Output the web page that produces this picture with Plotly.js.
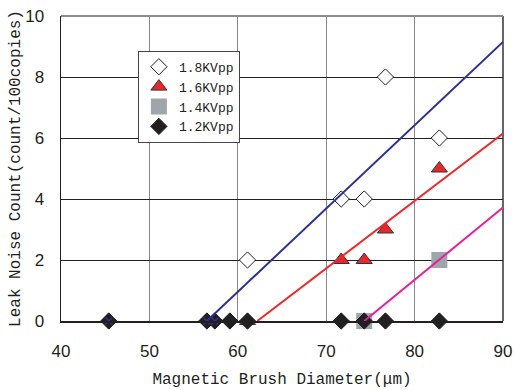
<!DOCTYPE html>
<html>
<head>
<meta charset="utf-8">
<script src="https://cdn.plot.ly/plotly-3.0.1.min.js"></script>
<style>html,body{margin:0;padding:0;background:#fff;}#chart{width:515px;height:390px;}</style>
</head>
<body>
<div id="chart"></div>
<script>
// Data
var seriesNames = ["1.8KVpp", "1.6KVpp", "1.4KVpp", "1.2KVpp"];
var x18 = [61.1, 71.7, 74.3, 76.7, 82.8];
var y18 = [2, 4, 4, 8, 6];
var x16 = [61.1, 71.7, 74.3, 76.7, 82.8];
var y16 = [0, 2, 2, 3, 5];
var x14 = [74.3, 82.8];
var y14 = [0, 2];
var x12 = [45.4, 56.5, 57.4, 59.1, 61.1, 71.7, 74.3, 76.7, 82.8];
var y12 = [0, 0, 0, 0, 0, 0, 0, 0, 0];
var xCross = [45.4, 56.5, 57.4];
var yCross = [0, 0, 0];
// Fitted lines (end points)
var fit18x = [56.5, 90], fit18y = [0, 9.15];
var fit16x = [62.2, 90], fit16y = [0, 6.15];
var fit14x = [74.3, 90], fit14y = [0, 3.72];
var xTicks = [40, 50, 60, 70, 80, 90];
var yTicks = [0, 2, 4, 6, 8, 10];

var traces = [
  {x: x18, y: y18, name: seriesNames[0], type: 'scatter', mode: 'markers', cliponaxis: false,
   marker: {symbol: 'diamond', size: 12.5, color: '#ffffff', line: {color: '#222', width: 1}}},
  {x: x16, y: y16, name: seriesNames[1], type: 'scatter', mode: 'markers', cliponaxis: false,
   marker: {symbol: 'triangle-up', size: 14, color: '#e8262b', line: {color: '#333', width: 1}}},
  {x: x14, y: y14, name: seriesNames[2], type: 'scatter', mode: 'markers', cliponaxis: false,
   marker: {symbol: 'square', size: 16, color: '#9ea5ab', line: {width: 0}}},
  {x: x12, y: y12, name: seriesNames[3], type: 'scatter', mode: 'markers', cliponaxis: false,
   marker: {symbol: 'diamond', size: 12.5, color: '#231f20', line: {color: '#231f20', width: 1}}},
  {x: fit18x, y: fit18y, type: 'scatter', mode: 'lines', showlegend: false, cliponaxis: false,
   line: {color: '#2e3192', width: 2}},
  {x: fit16x, y: fit16y, type: 'scatter', mode: 'lines', showlegend: false, cliponaxis: false,
   line: {color: '#f0282a', width: 2}},
  {x: fit14x, y: fit14y, type: 'scatter', mode: 'lines', showlegend: false, cliponaxis: false,
   line: {color: '#e91e9c', width: 2}},
  {x: xCross, y: yCross, type: 'scatter', mode: 'markers', showlegend: false, cliponaxis: false,
   marker: {symbol: 'x-thin', size: 7, color: '#2e3192', line: {color: '#2e3192', width: 1.5}}}
];

var monoFont = 'Liberation Mono, DejaVu Sans Mono, monospace';
var tickFont = {family: 'Liberation Sans Narrow, Liberation Sans, Arial, sans-serif', size: 17, color: '#231f20'};

var layout = {
  width: 515, height: 390,
  margin: {l: 61, r: 12, t: 16, b: 69},
  paper_bgcolor: '#fff', plot_bgcolor: '#fff',
  showlegend: true,
  legend: {
    x: 0.174, y: 0.886, xanchor: 'left', yanchor: 'top',
    bgcolor: '#fff', bordercolor: '#444', borderwidth: 1,
    font: {family: monoFont, size: 13, color: '#231f20'},
    itemwidth: 30, tracegroupgap: 0
  },
  xaxis: {
    range: [40, 90], tickvals: xTicks, ticktext: xTicks.map(String),
    showgrid: true, gridcolor: '#8a8a8a', gridwidth: 1,
    showline: true, linecolor: '#231f20', linewidth: 1.5,
    zeroline: false, ticks: '', ticklabelstandoff: 14,
    tickfont: tickFont,
    title: {text: 'Magnetic Brush Diameter(μm)', font: {family: monoFont, size: 16, color: '#231f20'}, standoff: 13}
  },
  yaxis: {
    range: [0, 10], tickvals: yTicks, ticktext: yTicks.map(String),
    showgrid: true, gridcolor: '#231f20', gridwidth: 1,
    showline: true, linecolor: '#231f20', linewidth: 1.5,
    zeroline: false, ticks: '', ticklabelstandoff: 12,
    tickfont: tickFont,
    title: {text: 'Leak Noise Count(count/100copies)', font: {family: monoFont, size: 16, color: '#231f20'}, standoff: 0}
  },
  shapes: [
    {type: 'line', xref: 'paper', yref: 'paper', x0: 0, x1: 1, y0: 1, y1: 1, line: {color: '#8a8a8a', width: 2}, layer: 'above'},
    {type: 'line', xref: 'paper', yref: 'paper', x0: 1, x1: 1, y0: 0, y1: 1, line: {color: '#333', width: 1.5}, layer: 'below'}
  ]
};

Plotly.newPlot('chart', traces, layout, {displayModeBar: false, staticPlot: true});
</script>
</body>
</html>
